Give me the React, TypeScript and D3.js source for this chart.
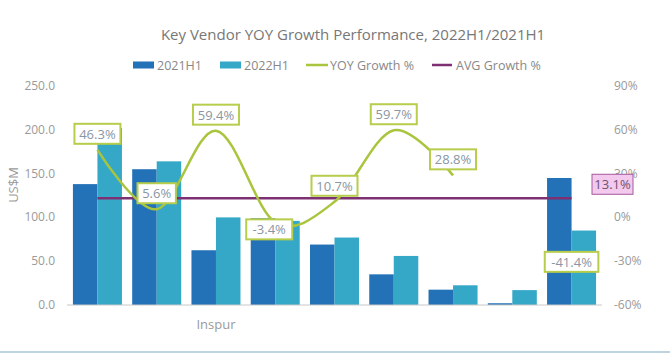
import React from 'react';
import * as d3 from 'd3';

// values
const groups = [0, 1, 2, 3, 4, 5, 6, 7, 8];
const tickNames = ['', '', 'Inspur', '', '', '', '', '', ''];
const sales2021 = [138, 155, 62.5, 99, 69, 35, 17.5, 2, 145];
const sales2022 = [202, 164, 100, 96, 77, 56, 22.5, 17, 85];
const yoyGrowth = [46.3, 5.6, 59.4, -3.4, 10.7, 59.7, 28.8, null, -41.4];
const avgGrowth = 13.1;
const leftTicks = [0, 50, 100, 150, 200, 250];
const rightTicks = [-60, -30, 0, 30, 60, 90];

const W = 670;
const H = 354;
const font = '"Open Sans", "Noto Sans", sans-serif';

const dark = '#2371b6';
const light = '#36a8c7';
const green = '#a9c53d';
const purple = '#7d3173';

export default function App() {
  const x = d3.scaleBand<number>().domain(groups).range([67, 602]).paddingInner(0.173).paddingOuter(0.1);
  const yL = d3.scaleLinear().domain([0, 250]).range([305, 86]);
  const yR = d3.scaleLinear().domain([-60, 90]).range([305, 86]);
  const half = x.bandwidth() / 2;
  const cx = (i: number) => (x(i) as number) + half;

  const line = d3
    .line<number | null>()
    .defined((d) => d !== null)
    .x((_, i) => cx(i))
    .y((d) => yR(d as number))
    .curve(d3.curveCardinal.tension(0));

  // -3.4% label sits on the point instead of above it
  const labelOffset = (i: number) => (i === 3 ? { dx: -6, dy: 7 } : { dx: 0, dy: -16 });

  return (
    <svg width={W} height={H} style={{ position: 'absolute', left: 0, top: 0, background: '#fff' }} fontFamily={font}>
      <text x={353} y={40} textAnchor="middle" fontSize={15} fill="#777">
        Key Vendor YOY Growth Performance, 2022H1/2021H1
      </text>

      {/* legend */}
      <g fontSize={12.5} fill="#888">
        <rect x={133} y={61.5} width={21} height={7} fill={dark} />
        <text x={157} y={70}>2021H1</text>
        <rect x={220} y={61.5} width={21} height={7} fill={light} />
        <text x={244} y={70}>2022H1</text>
        <line x1={306} x2={328} y1={65} y2={65} stroke={green} strokeWidth={2.5} />
        <text x={330} y={70}>YOY Growth %</text>
        <line x1={432} x2={452} y1={65} y2={65} stroke={purple} strokeWidth={2.5} />
        <text x={456} y={70}>AVG Growth %</text>
      </g>

      {/* axes */}
      <g fontSize={12} fill="#9a9a9a">
        {leftTicks.map((t) => (
          <text key={t} x={55} y={yL(t) + 4} textAnchor="end">
            {d3.format('.1f')(t)}
          </text>
        ))}
        {rightTicks.map((t) => (
          <text key={t} x={614} y={yR(t) + 4}>
            {t + '%'}
          </text>
        ))}
        <text transform={`translate(18,${185}) rotate(-90)`} textAnchor="middle" fontSize={13}>
          US$M
        </text>
        {groups.map((g) => (
          <text key={g} x={cx(g)} y={329} textAnchor="middle" fontSize={13}>
            {tickNames[g]}
          </text>
        ))}
      </g>

      {/* bars */}
      {groups.map((g) => (
        <g key={g}>
          <rect x={x(g)} y={yL(sales2021[g])} width={half} height={yL(0) - yL(sales2021[g])} fill={dark} />
          <rect x={(x(g) as number) + half} y={yL(sales2022[g])} width={half} height={yL(0) - yL(sales2022[g])} fill={light} />
        </g>
      ))}
      <line x1={67} x2={602} y1={yL(0)} y2={yL(0)} stroke="#c8c8c8" strokeWidth={1} />

      {/* average line */}
      <line x1={cx(0)} x2={cx(8)} y1={yR(avgGrowth)} y2={yR(avgGrowth)} stroke={purple} strokeWidth={2.5} />

      {/* yoy line */}
      <path d={line(yoyGrowth) || ''} fill="none" stroke={green} strokeWidth={2.5} />

      {/* yoy labels */}
      {yoyGrowth.map((v, i) => {
        if (v === null) return null;
        const txt = v.toFixed(1) + '%';
        const w = 8 + txt.length * 7.6;
        const o = labelOffset(i);
        const lx = cx(i) + o.dx;
        const ly = yR(v) + o.dy;
        return (
          <g key={i}>
            <rect x={lx - w / 2} y={ly - 10} width={w} height={20} fill="#fff" stroke="#b7cd4c" strokeWidth={2} />
            <text x={lx} y={ly + 5} textAnchor="middle" fontSize={13} fill="#8a96a3">
              {txt}
            </text>
          </g>
        );
      })}

      {/* avg label */}
      <g>
        <rect x={592} y={yR(avgGrowth) - 24} width={41} height={20} fill="#f3c9ee" stroke="#a45a9c" strokeWidth={1} />
        <text x={612.5} y={yR(avgGrowth) - 9} textAnchor="middle" fontSize={13} fill="#6e5270">
          {avgGrowth.toFixed(1) + '%'}
        </text>
      </g>

      <line x1={0} x2={W} y1={352} y2={352} stroke="#a9c6d8" strokeWidth={1.5} />
    </svg>
  );
}
